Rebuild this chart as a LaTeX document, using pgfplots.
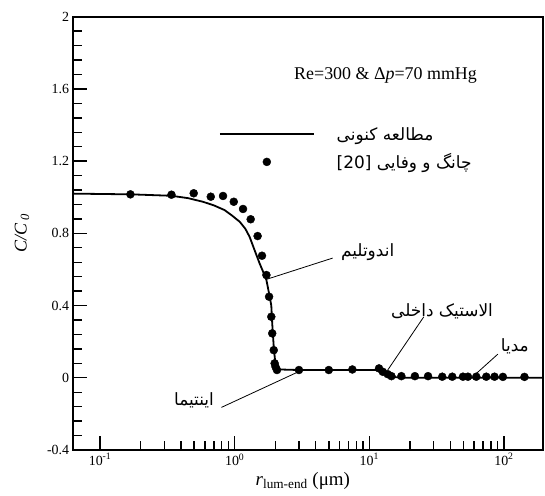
\documentclass[border=0pt]{standalone}
\usepackage{fontspec}
\setmainfont{Liberation Serif}
\newfontfamily\fa[Script=Arabic]{DejaVu Sans}
\usepackage{pgfplots}
\pgfplotsset{compat=1.18}
\TeXXeTstate=1
\newcommand{\rtl}[1]{{\fa\beginR #1\endR}}

\begin{document}
\begin{tikzpicture}
\useasboundingbox (0,0) rectangle (545bp,496bp);
\begin{axis}[
  at={(72.7bp,46bp)}, anchor=south west,
  scale only axis, width=470.6bp, height=433.3bp,
  xmode=log, xmin=0.0626, xmax=196, ymin=-0.4, ymax=2,
  ytick={-0.4,0,0.4,0.8,1.2,1.6,2},
  minor y tick num=4,
  xtick={0.1,1,10,100},
  xticklabels={10\textsuperscript{-1},10\textsuperscript{0},10\textsuperscript{1},10\textsuperscript{2}},
  yticklabel style={/pgf/number format/.cd, fixed, precision=1, assume math mode=true},
  xtick pos=bottom, ytick pos=left,
  major tick length=14bp, minor tick length=9bp,
  tick style={black, line width=1.4bp},
  axis line style={line width=1.8bp},
  tick label style={font=\fontsize{14}{16}\selectfont},
  xlabel={\textit{r}\textsubscript{lum-end} (μm)},
  ylabel={\textit{C/C}\,\textsubscript{\textit{0}}},
  xlabel style={at={(axis description cs:0.489,-0.081)}, anchor=base, font=\fontsize{19}{22}\selectfont},
  ylabel style={at={(axis description cs:-0.1077,0.5)}, anchor=center, font=\fontsize{18}{22}\selectfont},
  legend image code/.code={\draw[mark repeat=2,mark phase=2,#1] plot coordinates {(0bp,0bp) (47bp,0bp) (94bp,0bp)};},
  legend style={draw=none, fill=none, at={(axis cs:0.761,1.40)}, anchor=north west, inner sep=0pt, row sep=8bp,
    font=\fontsize{17}{20}\selectfont, /tikz/every odd column/.append style={column sep=20bp}},
  legend cell align=left,
  clip=false,
]
\addplot[black, line width=1.8bp, no marks] coordinates {
(0.0626,1.02) (0.17,1.016) (0.34,1.008) (0.45,0.995) (0.58,0.975) (0.7,0.955) (0.84,0.929) (0.95,0.90) (1.09,0.864) (1.2,0.825) (1.29,0.781) (1.4,0.71) (1.53,0.634) (1.62,0.59) (1.72,0.541) (1.82,0.449) (1.87,0.40) (1.90,0.30) (1.95,0.17) (2.01,0.07) (2.16,0.046) (3,0.043) (5,0.043) (8,0.043) (12,0.043) (13,0.03) (14,0.015) (15.5,0.004) (17,0) (196,0)
};
\addlegendentry{\rtl{مطالعه کنونی}}
\addplot[black, only marks, mark=*, mark size=4bp] coordinates {
(0.168,1.016) (0.339,1.014) (0.496,1.022) (0.664,1.003) (0.819,1.007) (0.984,0.975) (1.153,0.935) (1.314,0.878) (1.48,0.785) (1.595,0.676) (1.72,0.569) (1.80,0.449) (1.87,0.338) (1.90,0.246) (1.95,0.153) (1.98,0.080) (2.01,0.061) (2.06,0.043) (3.0,0.043) (5.0,0.043) (7.48,0.046) (11.8,0.052) (12.6,0.033) (13.7,0.020) (14.6,0.009) (17.3,0.009) (21.8,0.009) (27.3,0.009) (34.8,0.006) (41.3,0.006) (49.6,0.006) (54,0.006) (62.3,0.006) (73.9,0.006) (85.1,0.006) (98.2,0.005) (142,0.005)
};
\addlegendentry{\rtl{چانگ و وفایی \beginL[20]\endL}}
\node[font=\fontsize{18}{20}\selectfont] at (axis cs:13.2,1.677) {Re=300 \& Δ\textit{p}=70 mmHg};
\node[font=\fontsize{17}{20}\selectfont] at (axis cs:9.71,0.698) {\rtl{اندوتلیم}};
\draw[line width=0.8bp] (axis cs:1.719,0.545) -- (axis cs:5.34,0.663);
\node[font=\fontsize{17}{20}\selectfont] at (axis cs:34.7,0.366) {\rtl{الاستیک داخلی}};
\draw[line width=0.8bp] (axis cs:13.7,0.043) -- (axis cs:25.4,0.338);
\node[font=\fontsize{17}{20}\selectfont] at (axis cs:120.5,0.172) {\rtl{مدیا}};
\draw[line width=0.8bp] (axis cs:60.5,0.015) -- (axis cs:90.1,0.131);
\node[font=\fontsize{17}{20}\selectfont] at (axis cs:0.498,-0.124) {\rtl{اینتیما}};
\draw[line width=0.8bp] (axis cs:0.797,-0.164) -- (axis cs:2.87,0.028);
\end{axis}
\end{tikzpicture}
\end{document}
